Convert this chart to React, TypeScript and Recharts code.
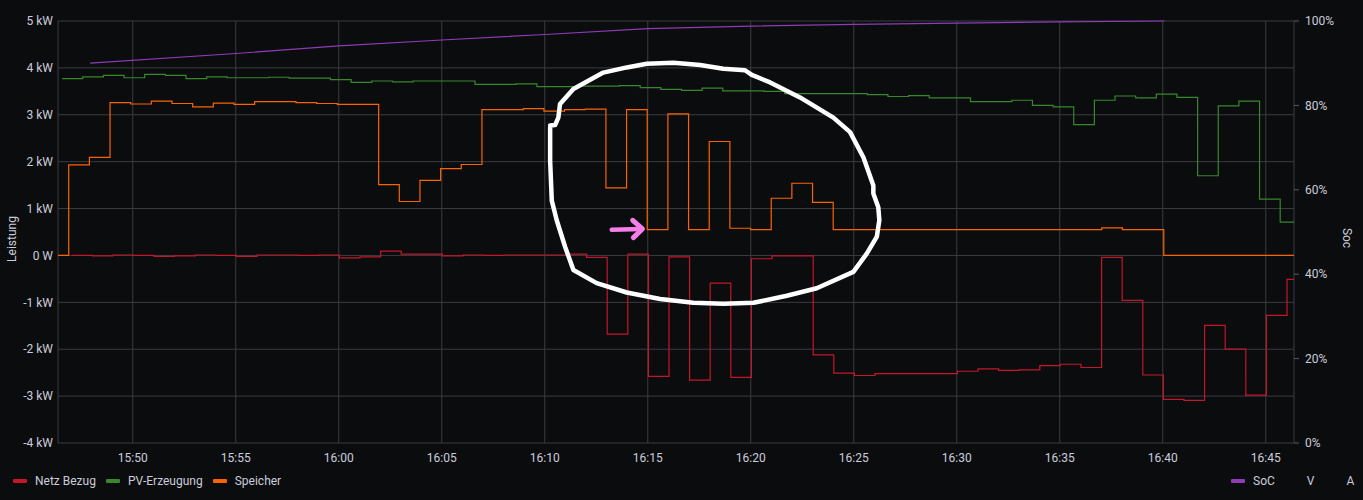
import { LineChart, Line, XAxis, YAxis, CartesianGrid } from "recharts";

// time axis in minutes after 15:00
const viewStart = 46.37;
const viewEnd = 106.37;
const timeTicks = [50, 55, 60, 65, 70, 75, 80, 85, 90, 95, 100, 105];
const powerTicks = [-4, -3, -2, -1, 0, 1, 2, 3, 4, 5];
const socTicks = [0, 20, 40, 60, 80, 100];

// Netz Bezug in kW, one sample per minute
const netzStart = 47.03;
const netzStep = 1.0;
const netzBezug = [
  0, -0.01, 0.01, 0, -0.02, -0.01, 0.01, 0, -0.02, 0.01,
  0.01, 0, 0.01, -0.05, -0.03, 0.09, 0.03, 0.03, -0.01, 0.01,
  0, 0.01, 0.01, 0.01, 0.03, -0.04, -1.68, 0.03, -2.58, -0.03,
  -2.66, -0.59, -2.6, -0.07, -0.01, -0.01, -2.12, -2.51, -2.56, -2.52,
  -2.52, -2.52, -2.52, -2.47, -2.42, -2.45, -2.44, -2.35, -2.32, -2.39,
  -0.04, -0.96, -2.55, -3.07, -3.09, -1.49, -2.0, -2.98, -1.28, -0.51,
];

// PV-Erzeugung in kW
const pvStart = 46.57;
const pvStep = 1.0022;
const pvErzeugung = [
  3.77, 3.81, 3.84, 3.79, 3.86, 3.84, 3.77, 3.81, 3.79, 3.79,
  3.8, 3.78, 3.78, 3.75, 3.69, 3.72, 3.7, 3.72, 3.72, 3.72,
  3.65, 3.65, 3.66, 3.6, 3.6, 3.61, 3.61, 3.62, 3.58, 3.54,
  3.52, 3.57, 3.51, 3.51, 3.5, 3.45, 3.45, 3.45, 3.45, 3.43,
  3.39, 3.41, 3.36, 3.36, 3.28, 3.28, 3.31, 3.2, 3.17, 2.79,
  3.31, 3.4, 3.36, 3.44, 3.37, 1.7, 3.19, 3.29, 1.2, 0.71,
];

// Speicher in kW (0 before the first sample)
const speicherLead = 0;
const speicherStart = 46.89;
const speicherStep = 1.003;
const speicher = [
  1.93, 2.09, 3.26, 3.23, 3.29, 3.24, 3.17, 3.25, 3.22, 3.28,
  3.28, 3.26, 3.24, 3.22, 3.22, 1.51, 1.15, 1.6, 1.85, 1.94,
  3.11, 3.11, 3.13, 3.08, 3.11, 3.12, 1.44, 3.11, 0.55, 3.02,
  0.55, 2.43, 0.58, 0.55, 1.22, 1.54, 1.13, 0.55, 0.55, 0.55,
  0.55, 0.55, 0.55, 0.55, 0.55, 0.55, 0.55, 0.55, 0.55, 0.55,
  0.59, 0.55, 0.55, 0, 0, 0, 0, 0, 0, 0,
];

// SoC in %
const socTimes = [47.93, 55, 60, 65, 70, 75, 80, 85, 90, 95, 100.08];
const socValues = [90.0, 92.3, 94.1, 95.5, 96.8, 98.2, 98.8, 99.2, 99.5, 99.8, 100];

// hand drawn circle + arrow on top of the screenshot (minutes, kW)
const circleT = [
  70.26, 70.5, 70.66, 70.74, 71.39, 72.84, 73.98, 74.95, 76.24, 77.54,
  78.67, 79.72, 80.05, 80.94, 82.39, 84.01, 84.82, 85.47, 85.95, 85.95,
  86.19, 86.24, 86.12, 85.63, 84.98, 83.2, 81.75, 80.13, 78.67, 77.21,
  75.6, 73.98, 72.52, 71.39, 70.99, 70.58, 70.34, 70.26, 70.26,
];
const circleKw = [
  2.77, 2.78, 2.94, 3.23, 3.55, 3.9, 4.01, 4.09, 4.11, 4.06,
  3.98, 3.95, 3.85, 3.69, 3.37, 2.94, 2.63, 2.09, 1.49, 1.32,
  1.03, 0.75, 0.4, 0.04, -0.35, -0.7, -0.86, -1.01, -1.03, -1.01,
  -0.93, -0.79, -0.59, -0.31, 0.18, 0.75, 1.17, 2.02, 2.73,
];
const arrowShaftT = [73.25, 74.7];
const arrowShaftKw = [0.55, 0.565];
const arrowHeadT = [74.27, 74.74, 74.3];
const arrowHeadKw = [0.75, 0.565, 0.38];

const stepSeries = (start: number, step: number, values: number[], lead?: number) => {
  const rows = values.map((v, i) => ({ t: start + i * step, v }));
  if (lead !== undefined) rows.unshift({ t: viewStart, v: lead });
  rows.push({ t: viewEnd, v: values[values.length - 1] });
  return rows;
};
const zipRows = (ts: number[], vs: number[]) => ts.map((t, i) => ({ t, v: vs[i] }));

const netzData = stepSeries(netzStart, netzStep, netzBezug);
const pvData = stepSeries(pvStart, pvStep, pvErzeugung);
const speicherData = stepSeries(speicherStart, speicherStep, speicher, speicherLead);
const socData = zipRows(socTimes, socValues);
const circleData = zipRows(circleT, circleKw);
const arrowShaft = zipRows(arrowShaftT, arrowShaftKw);
const arrowHead = zipRows(arrowHeadT, arrowHeadKw);

const legendLeft = [
  { name: "Netz Bezug", color: "#C4162A" },
  { name: "PV-Erzeugung", color: "#37872D" },
  { name: "Speicher", color: "#FA6400" },
];
const legendRight = [
  { name: "SoC", color: "#8F3BB8" },
  { name: "V", color: "transparent" },
  { name: "A", color: "transparent" },
];

const fmtTime = (m: number) => `${15 + Math.floor(m / 60)}:${String(m % 60).padStart(2, "0")}`;
const fmtPower = (v: number) => (v === 0 ? "0 W" : `${v} kW`);

const textColor = "#ccccdc";
const gridColor = "#3b3c40";
const font = "Roboto, sans-serif";

function LegendRow({ items, left }: { items: { name: string; color: string }[]; left: number }) {
  return (
    <div style={{ position: "absolute", left, top: 472, height: 18, display: "flex", alignItems: "center", gap: 10 }}>
      {items.map((it) => (
        <div key={it.name} style={{ display: "flex", alignItems: "center" }}>
          <div style={{ width: 14, height: 4, borderRadius: 1, background: it.color, marginRight: 8 }} />
          <span style={{ fontSize: 12, color: textColor }}>{it.name}</span>
        </div>
      ))}
    </div>
  );
}

export default function App() {
  return (
    <div style={{ position: "absolute", top: 0, left: 0, width: 1363, height: 500, background: "#0b0c0e", fontFamily: font }}>
      <LineChart width={1363} height={500} margin={{ top: 21, right: 19, left: 8, bottom: 27 }} style={{ fontFamily: font }}>
        <CartesianGrid stroke={gridColor} yAxisId="kw" />
        <XAxis
          dataKey="t"
          type="number"
          domain={[viewStart, viewEnd]}
          ticks={timeTicks}
          tickFormatter={fmtTime}
          axisLine={false}
          tickLine={false}
          tickSize={0}
          tickMargin={10}
          height={30}
          tick={{ fill: textColor, fontSize: 12 }}
        />
        <YAxis
          yAxisId="kw"
          type="number"
          domain={[-4, 5]}
          ticks={powerTicks}
          tickFormatter={fmtPower}
          axisLine={false}
          tickLine={false}
          tickSize={0}
          tickMargin={5}
          width={50}
          tick={{ fill: textColor, fontSize: 12 }}
        />
        <YAxis
          yAxisId="soc"
          orientation="right"
          type="number"
          domain={[0, 100]}
          ticks={socTicks}
          tickFormatter={(v) => `${v}%`}
          axisLine={false}
          tickLine={{ stroke: "#5a5b62" }}
          tickSize={5}
          tickMargin={6}
          width={50}
          tick={{ fill: textColor, fontSize: 12 }}
        />

        <Line data={netzData} dataKey="v" yAxisId="kw" type="stepAfter" stroke="#C4162A" strokeWidth={1.2} dot={false} isAnimationActive={false} />
        <Line data={pvData} dataKey="v" yAxisId="kw" type="stepAfter" stroke="#37872D" strokeWidth={1.2} dot={false} isAnimationActive={false} />
        <Line data={speicherData} dataKey="v" yAxisId="kw" type="stepAfter" stroke="#FA6400" strokeWidth={1.2} dot={false} isAnimationActive={false} />
        <Line data={socData} dataKey="v" yAxisId="soc" type="linear" stroke="#8F3BB8" strokeWidth={1.2} dot={false} isAnimationActive={false} />

        <Line data={circleData} dataKey="v" yAxisId="kw" type="linear" stroke="#ffffff" strokeWidth={4.5} strokeLinejoin="round" strokeLinecap="round" dot={false} isAnimationActive={false} />
        <Line data={arrowShaft} dataKey="v" yAxisId="kw" type="linear" stroke="#f77ee8" strokeWidth={4.5} strokeLinecap="round" dot={false} isAnimationActive={false} />
        <Line data={arrowHead} dataKey="v" yAxisId="kw" type="linear" stroke="#f77ee8" strokeWidth={5} strokeLinejoin="round" strokeLinecap="round" dot={false} isAnimationActive={false} />
      </LineChart>

      <div style={{ position: "absolute", left: 12, top: 239, transform: "translate(-50%, -50%) rotate(-90deg)", fontSize: 12, color: textColor, whiteSpace: "nowrap" }}>
        Leistung
      </div>
      <div style={{ position: "absolute", left: 1347, top: 238, transform: "translate(-50%, -50%) rotate(90deg)", fontSize: 12, color: textColor, whiteSpace: "nowrap" }}>
        Soc
      </div>

      <LegendRow items={legendLeft} left={13} />
      <LegendRow items={legendRight} left={1231} />
    </div>
  );
}
